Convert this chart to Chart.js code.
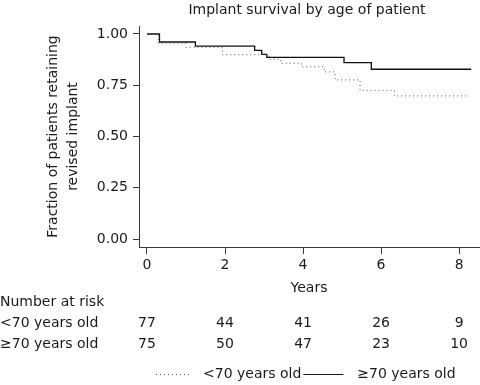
<!DOCTYPE html>
<html>
<head>
<meta charset="utf-8">
<script src="https://cdn.jsdelivr.net/npm/chart.js@4.4.1/dist/chart.umd.min.js"></script>
<style>
  html, body { margin: 0; padding: 0; background: #fff; }
  #wrap { width: 480px; height: 385px; }
</style>
</head>
<body>
<div id="wrap"><canvas id="km" width="480" height="385"></canvas></div>
<script>
// Kaplan-Meier steps (years, fraction retaining implant)
const timesUnder70 = [0, 0.29, 1.00, 1.93, 3.13, 3.43, 3.96, 4.54, 4.82, 5.46, 6.34, 8.21];
const survUnder70  = [1.00, 0.955, 0.935, 0.899, 0.877, 0.857, 0.840, 0.815, 0.776, 0.725, 0.698, 0.698];
const timesOver70  = [0, 0.32, 1.24, 2.76, 2.94, 3.07, 5.05, 5.75, 8.31];
const survOver70   = [1.00, 0.961, 0.941, 0.920, 0.901, 0.886, 0.860, 0.828, 0.828];

// number at risk table
const riskTimes   = [0, 2, 4, 6, 8];
const riskUnder70 = [77, 44, 41, 26, 9];
const riskOver70  = [75, 50, 47, 23, 10];

const xTicks = [0, 2, 4, 6, 8];
const yTicks = [0, 0.25, 0.5, 0.75, 1];

const chartTitle = 'Implant survival by age of patient';
const labelUnder70 = '<70 years old';
const labelOver70 = '\u226570 years old';

const FONT = "'DejaVu Sans', sans-serif";
const FS = 14;
const INK = '#1a1a1a';
const AXIS = '#3a3a3a';

function pts(xs, ys){ return xs.map((x,i)=>({x, y: ys[i]})); }

// title over the plot area, risk table + small legend under the axis
const riskTablePlugin = {
  id: 'riskTable',
  afterDraw(chart){
    const ctx = chart.ctx, xs = chart.scales.x, ca = chart.chartArea;
    ctx.save();
    ctx.fillStyle = INK;
    ctx.font = FS + 'px ' + FONT;
    ctx.textBaseline = 'middle';
    ctx.textAlign = 'center';
    ctx.fillText(chartTitle, (ca.left + ca.right) / 2 - 2, 10);

    ctx.textAlign = 'left';
    ctx.fillText('Number at risk', 0, 302);
    ctx.fillText(labelUnder70, 0, 323);
    ctx.fillText(labelOver70, 0, 344);
    ctx.textAlign = 'center';
    riskTimes.forEach((t,i)=>{
      const px = xs.getPixelForValue(t);
      ctx.fillText(String(riskUnder70[i]), px, 323);
      ctx.fillText(String(riskOver70[i]), px, 344);
    });

    // legend
    const ly = 374;
    let lx = 156;
    ctx.lineWidth = 1;
    ctx.strokeStyle = '#555';
    ctx.setLineDash([1, 3]);
    ctx.beginPath(); ctx.moveTo(lx, ly + 0.5); ctx.lineTo(lx + 36, ly + 0.5); ctx.stroke();
    ctx.setLineDash([]);
    lx += 47;
    ctx.textAlign = 'left';
    ctx.fillText(labelUnder70, lx, ly);
    lx += ctx.measureText(labelUnder70).width + 2;
    ctx.strokeStyle = INK;
    ctx.lineWidth = 1.2;
    ctx.beginPath(); ctx.moveTo(lx, ly + 0.5); ctx.lineTo(lx + 40, ly + 0.5); ctx.stroke();
    lx += 54;
    ctx.fillText(labelOver70, lx, ly);
    ctx.restore();
  }
};

new Chart(document.getElementById('km'), {
  type: 'line',
  data: {
    datasets: [
      { label: labelUnder70, data: pts(timesUnder70, survUnder70), stepped: 'before',
        borderColor: '#555', borderWidth: 1, borderDash: [1, 3], pointRadius: 0, fill: false },
      { label: labelOver70, data: pts(timesOver70, survOver70), stepped: 'before',
        borderColor: '#111', borderWidth: 1.3, pointRadius: 0, fill: false }
    ]
  },
  options: {
    responsive: false,
    animation: false,
    layout: { padding: { left: 0, right: 1, top: 26, bottom: 0 } },
    plugins: {
      legend: { display: false },
      tooltip: { enabled: false },
      title: { display: false }
    },
    scales: {
      x: {
        type: 'linear',
        min: -0.205, max: 8.51,
        afterBuildTicks: s => { s.ticks = xTicks.map(v => ({value: v})); },
        afterFit: s => { s.height = 138; },
        grid: { drawOnChartArea: false, drawTicks: true, tickLength: 7, color: AXIS, tickColor: AXIS },
        border: { color: AXIS, width: 1 },
        ticks: { color: INK, font: { family: FONT, size: FS }, padding: 3, maxRotation: 0 },
        title: { display: true, text: 'Years', color: INK,
                 font: { family: FONT, size: FS }, padding: { top: 0, bottom: 88 } }
      },
      y: {
        type: 'linear',
        min: -0.039, max: 1.039,
        afterBuildTicks: s => { s.ticks = yTicks.map(v => ({value: v})); },
        afterFit: s => { s.width = 139; },
        grid: { drawOnChartArea: false, drawTicks: true, tickLength: 6, color: AXIS, tickColor: AXIS },
        border: { color: AXIS, width: 1 },
        ticks: { color: INK, font: { family: FONT, size: FS }, padding: 5,
                 callback: v => Number(v).toFixed(2) },
        title: { display: true, text: ['Fraction of patients retaining', 'revised implant'], color: INK,
                 font: { family: FONT, size: FS, lineHeight: 1.43 }, padding: { top: 43, bottom: 0 } }
      }
    }
  },
  plugins: [riskTablePlugin]
});
</script>
</body>
</html>
